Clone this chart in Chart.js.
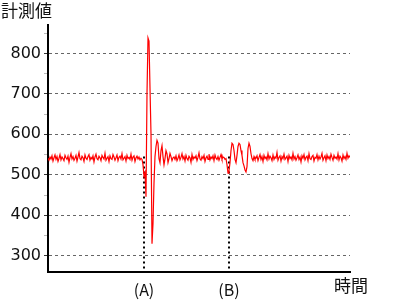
<!DOCTYPE html>
<html>
<head>
<meta charset="utf-8">
<script src="https://cdn.jsdelivr.net/npm/chart.js@4"></script>
<style>
  body { margin: 0; background: #fff; }
  canvas { display: block; }
</style>
</head>
<body>
<canvas id="chart" width="406" height="303"></canvas>
<script>
// sampled signal, one reading per time unit
const sampleStep = 1;
const baselineBefore = [
  541, 536, 544, 539, 547, 534, 542, 549, 538, 545,
  533, 541, 550, 537, 544, 540, 535, 548, 542, 538,
  546, 531, 543, 552, 539, 545, 536, 541, 548, 534,
  544, 555, 540, 537, 546, 542, 533, 549, 541, 538,
  545, 550, 536, 543, 539, 547, 532, 544, 551, 540,
  537, 546, 542, 535, 548, 543, 539, 553, 536, 541,
  545, 533, 547, 540, 538, 550, 544, 536, 542, 549,
  535, 543, 546, 539, 552, 537, 541, 545, 534, 548,
  540, 543, 538, 551, 536, 544, 547, 533, 542, 546,
  539, 544, 537, 541
];
const eventA = [
  538, 525, 497, 505, 446, 700, 838, 830, 714, 600,
  330, 380, 480, 545, 570, 585, 578, 540, 530, 560,
  572, 545, 525, 540, 560, 552, 530, 540, 553, 545,
  535, 542
];
const baselineMiddle = [
  544, 538, 547, 535, 541, 549, 537, 543, 552, 539,
  545, 534, 548, 540, 536, 546, 542, 531, 550, 538,
  544, 541, 547, 535, 543, 554, 539, 536, 545, 540,
  548, 533, 542, 546, 538, 551, 537, 544, 540, 547,
  535, 549, 541, 538, 545, 536, 543, 550, 539, 544
];
const eventB = [
  543, 538, 540, 525, 504, 510, 530, 560, 578, 575,
  560, 538, 530, 548, 570, 578, 575, 560, 548, 530,
  522, 512, 507, 520, 565, 578, 570, 552, 540, 535,
  545, 538
];
const baselineAfter = [
  541, 547, 535, 543, 550, 538, 545, 533, 548, 540,
  544, 537, 552, 539, 546, 542, 535, 549, 538, 544,
  541, 555, 536, 543, 547, 534, 545, 540, 551, 538,
  542, 546, 533, 548, 540, 544, 537, 553, 539, 545,
  536, 542, 549, 538, 544, 532, 547, 541, 550, 537,
  543, 546, 535, 552, 540, 538, 545, 548, 534, 543,
  541, 550, 537, 546, 539, 544, 553, 536, 542, 547,
  535, 549, 540, 545, 538, 551, 543, 536, 548, 541,
  544, 539, 552, 537, 546, 542, 534, 549, 540, 545,
  538, 553, 541, 547, 543
];

const markerLabels = ["(A)", "(B)"];
const markerTimes = [96, 181];
const markerLevel = 545;

const yTitle = "計測値";
const xTitle = "時間";

const readings = [...baselineBefore, ...eventA, ...baselineMiddle, ...eventB, ...baselineAfter];
const points = readings.map((v, i) => ({ x: i * sampleStep, y: v }));

const annotate = {
  id: "annotate",
  beforeDatasetsDraw(chart) {
    const { ctx, scales: { x, y }, chartArea } = chart;
    ctx.save();
    ctx.strokeStyle = "#000";
    ctx.lineWidth = 2;
    ctx.setLineDash([2, 3]);
    markerTimes.forEach(t => {
      const px = Math.round(x.getPixelForValue(t));
      ctx.beginPath();
      ctx.moveTo(px, y.getPixelForValue(markerLevel));
      ctx.lineTo(px, chartArea.bottom);
      ctx.stroke();
    });
    ctx.restore();
  },
  afterDraw(chart) {
    const { ctx, scales: { x }, chartArea } = chart;
    ctx.save();
    ctx.fillStyle = "#111";
    ctx.textBaseline = "middle";
    ctx.font = '16px "Noto Sans CJK JP"';
    ctx.textAlign = "center";
    markerTimes.forEach((t, i) => {
      ctx.fillText(markerLabels[i], x.getPixelForValue(t), chartArea.bottom + 18);
    });
    ctx.font = '17px "Noto Sans CJK JP"';
    ctx.textAlign = "left";
    ctx.fillText(yTitle, 1, 11);
    ctx.fillText(xTitle, 334, chartArea.bottom + 14);
    ctx.restore();
  }
};

new Chart(document.getElementById("chart"), {
  type: "line",
  data: {
    datasets: [{
      data: points,
      borderColor: "#ff0000",
      borderWidth: 1.2,
      pointRadius: 0,
      tension: 0
    }]
  },
  options: {
    responsive: false,
    animation: false,
    layout: { padding: { left: 0, top: 25, right: 56, bottom: 31 } },
    plugins: { legend: { display: false }, tooltip: { enabled: false } },
    scales: {
      x: {
        type: "linear",
        min: 0,
        max: 302,
        ticks: { display: false },
        grid: { display: false },
        border: { color: "#000", width: 2 },
        afterFit: s => { s.height = 0; }
      },
      y: {
        min: 260,
        max: 870,
        ticks: {
          stepSize: 50,
          includeBounds: false,
          padding: 3,
          color: "#111",
          font: { family: "DejaVu Sans", size: 16 },
          callback: v => (v % 100 === 0 ? v : "")
        },
        grid: {
          color: c => (c.tick && c.tick.value % 100 === 0 ? "#666" : "rgba(0,0,0,0)"),
          tickColor: c => (c.tick && c.tick.value % 100 === 0 ? "#333" : "#bbb"),
          tickLength: 4,
          lineWidth: 1
        },
        border: { color: "#000", width: 2, dash: [3, 3] },
        afterFit: s => { s.width = 48; }
      }
    }
  },
  plugins: [annotate]
});
</script>
</body>
</html>
